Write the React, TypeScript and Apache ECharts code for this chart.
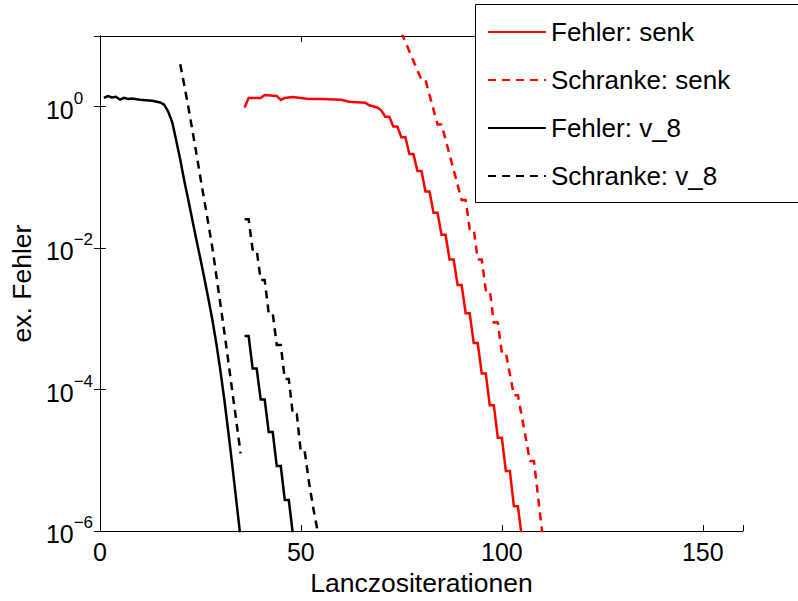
import React, { useEffect, useRef } from 'react';
import * as echarts from 'echarts';

const FONT = '"Liberation Sans", Arial, Helvetica, sans-serif';

// Tick labels
const xTickLabels = [0, 50, 100, 150];
const yTickExponents = [-6, -4, -2, 0];

// Legend / series names
const legendNames = ['Fehler: senk', 'Schranke: senk', 'Fehler: v_8', 'Schranke: v_8'];

// Fehler: senk (red solid) — iteration, log10(error)
const senkErrIter = [36, 37, 40, 41, 44, 45, 46, 48, 52, 55, 60, 62, 66, 67, 69, 70,
  71, 72, 73, 74, 75, 76, 77, 78, 79, 80, 81, 82, 83, 84, 85, 86, 87, 88,
  89, 90, 91, 92, 93, 94, 95, 96, 97, 98, 99, 100, 101, 102, 103, 104, 105];
const senkErrLog10 = [-0.01, 0.125, 0.125, 0.167, 0.153, 0.097, 0.125, 0.139, 0.11, 0.11, 0.097, 0.07, 0.056, 0.02, -0.01, -0.05,
  -0.14, -0.14, -0.28, -0.28, -0.43, -0.43, -0.67, -0.67, -0.91, -0.91, -1.2, -1.2, -1.5, -1.5, -1.81, -1.81, -2.16, -2.16,
  -2.52, -2.52, -2.92, -2.92, -3.34, -3.34, -3.77, -3.77, -4.22, -4.22, -4.68, -4.68, -5.15, -5.15, -5.65, -5.65, -6.1];

// Schranke: senk (red dashed)
const senkBoundIter = [75, 80, 81, 84, 85, 90, 91, 92, 93, 94, 95, 96, 97, 98, 99, 100, 101, 103, 104, 107, 108, 110, 111];
const senkBoundLog10 = [1.05, 0.38, 0.38, -0.25, -0.25, -1.32, -1.32, -1.73, -1.73, -2.16, -2.16, -2.59, -2.59, -3.05, -3.05,
  -3.48, -3.48, -4.08, -4.08, -5.01, -5.01, -6.0, -6.4];

// Fehler: v_8 (black solid), first part
const v8ErrIterA = [1, 2, 3, 4, 5, 6, 7, 8, 10, 13, 15, 16, 17, 18, 19, 20, 21, 22, 23, 24, 25, 26, 27, 28, 29, 30, 31, 32, 33, 34, 35];
const v8ErrLog10A = [0.125, 0.15, 0.13, 0.14, 0.1, 0.125, 0.11, 0.115, 0.1, 0.085, 0.06, 0.03, -0.07, -0.22, -0.48, -0.75,
  -1.05, -1.32, -1.6, -1.88, -2.15, -2.43, -2.72, -3.02, -3.36, -3.74, -4.16, -4.62, -5.1, -5.6, -6.1];

// Fehler: v_8 (black solid), second part
const v8ErrIterB = [36, 37, 38, 39, 40, 41, 42, 43, 44, 45, 46, 47, 48];
const v8ErrLog10B = [-3.24, -3.24, -3.7, -3.7, -4.14, -4.14, -4.6, -4.6, -5.08, -5.08, -5.56, -5.56, -6.04];

// Schranke: v_8 (black dashed), first part
const v8BoundIterA = [20, 21, 22, 23, 24, 25, 26, 27, 28, 29, 30, 31, 32, 33, 34, 35];
const v8BoundLog10A = [0.6, 0.3, 0.0, -0.33, -0.66, -1.0, -1.33, -1.66, -2.0, -2.4, -2.8, -3.2, -3.62, -4.05, -4.47, -4.9];

// Schranke: v_8 (black dashed), second part
const v8BoundIterB = [36, 37, 38, 39, 40, 41, 42, 43, 44, 45, 46, 47, 48, 49, 50, 51, 52, 53, 54, 55];
const v8BoundLog10B = [-1.59, -1.59, -2.02, -2.02, -2.45, -2.45, -2.92, -2.92, -3.37, -3.37, -3.85, -3.85, -4.35, -4.35,
  -4.89, -4.89, -5.3, -5.65, -5.95, -6.3];

const toData = (xs: number[], logs: number[]) => xs.map((x, i) => [x, Math.pow(10, logs[i])]);

const DASH = [8, 6];

function lineSeries(name: string, xs: number[], logs: number[], color: string, dashed: boolean) {
  return {
    type: 'line',
    name,
    data: toData(xs, logs),
    xAxisIndex: 0,
    yAxisIndex: 0,
    symbol: 'none',
    showSymbol: false,
    clip: true,
    lineStyle: { color, width: 2.5, type: dashed ? DASH : 'solid', join: 'miter' },
    itemStyle: { color },
    emphasis: { disabled: true },
  };
}

const yLabelFormatter = (value: number) => {
  const e = Math.round(Math.log10(value));
  if (yTickExponents.indexOf(e) < 0) return '';
  const s = e < 0 ? '\u2212' + String(-e) : String(e);
  return '{b|10}{s|' + s + '}';
};

const xLabelFormatter = (value: number) => (xTickLabels.indexOf(value) >= 0 ? String(value) : '');

export default function App() {
  const ref = useRef<HTMLDivElement>(null);
  useEffect(() => {
    const chart = echarts.init(ref.current!, undefined, { renderer: 'svg' });
    const axisLine = { show: true, lineStyle: { color: '#000', width: 1 } };
    const tick = { show: true, inside: true, length: 6, lineStyle: { color: '#000', width: 1 } };
    const option: any = {
      animation: false,
      backgroundColor: '#fff',
      textStyle: { fontFamily: FONT },
      grid: { left: 97, top: 36, width: 646, height: 502, containLabel: false },
      xAxis: [
        {
          type: 'value', min: 0, max: 160, interval: 50, position: 'bottom',
          axisLine, axisTick: tick, splitLine: { show: false },
          axisLabel: { formatter: xLabelFormatter, fontSize: 25, color: '#000', margin: 8, fontFamily: FONT },
          name: 'Lanczositerationen', nameLocation: 'middle', nameGap: 34,
          nameTextStyle: { fontSize: 26.5, color: '#000', fontFamily: FONT },
        },
        {
          type: 'value', min: 0, max: 160, interval: 50, position: 'top',
          axisLine, axisTick: tick, splitLine: { show: false }, axisLabel: { show: false },
        },
      ],
      yAxis: [
        {
          type: 'log', logBase: 100, min: 1e-6, max: 10, position: 'left',
          axisLine, axisTick: tick, splitLine: { show: false }, minorTick: { show: false },
          axisLabel: {
            formatter: yLabelFormatter, align: 'left', margin: 54, color: '#000',
            padding: [6, 0, 0, 0],
            rich: {
              b: { fontSize: 25, fontFamily: FONT, color: '#000', lineHeight: 40 },
              s: { fontSize: 17, fontFamily: FONT, color: '#000', lineHeight: 16, verticalAlign: 'top' },
            },
          },
          name: 'ex. Fehler', nameLocation: 'middle', nameGap: 63,
          nameTextStyle: { fontSize: 26.5, color: '#000', fontFamily: FONT },
        },
        {
          type: 'log', logBase: 100, min: 1e-6, max: 10, position: 'right',
          axisLine, axisTick: tick, splitLine: { show: false }, axisLabel: { show: false },
        },
      ],
      legend: {
        orient: 'vertical', left: 487, top: 18, padding: 0, z: 20,
        itemWidth: 58, itemHeight: 14, itemGap: 20,
        itemStyle: { opacity: 0 },
        textStyle: { fontSize: 26, lineHeight: 28, color: '#000', fontFamily: FONT },
        data: legendNames,
        selectedMode: false,
      },
      graphic: [
        {
          type: 'rect', z: 10, silent: true,
          shape: { x: 475.5, y: 4.5, width: 340, height: 198 },
          style: { fill: '#fff', stroke: '#000', lineWidth: 1 },
        },
      ],
      series: [
        lineSeries(legendNames[0], senkErrIter, senkErrLog10, '#ff0000', false),
        lineSeries(legendNames[1], senkBoundIter, senkBoundLog10, '#ff0000', true),
        lineSeries(legendNames[2], v8ErrIterA, v8ErrLog10A, '#000000', false),
        lineSeries(legendNames[2], v8ErrIterB, v8ErrLog10B, '#000000', false),
        lineSeries(legendNames[3], v8BoundIterA, v8BoundLog10A, '#000000', true),
        lineSeries(legendNames[3], v8BoundIterB, v8BoundLog10B, '#000000', true),
      ],
    };
    chart.setOption(option);
    return () => chart.dispose();
  }, []);
  return (
    <div
      ref={ref}
      style={{ position: 'absolute', left: 0, top: 0, width: 798, height: 601, background: '#fff' }}
    />
  );
}
